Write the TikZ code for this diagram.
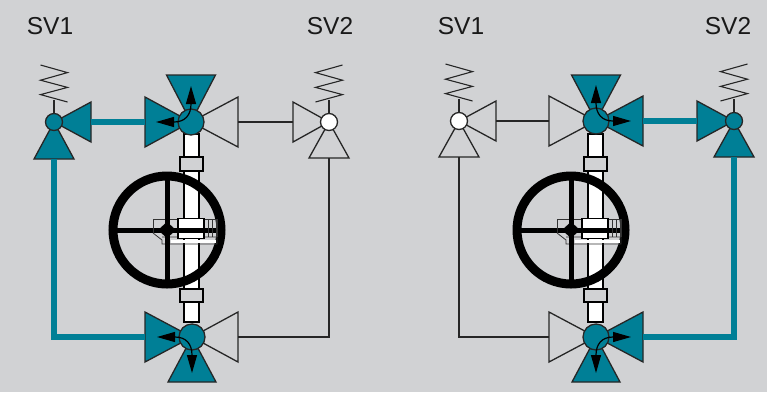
\documentclass[tikz,border=0pt]{standalone}
\usepackage{fontspec}
\setmainfont{Liberation Sans}
\usetikzlibrary{calc}
\usetikzlibrary{arrows.meta}
\definecolor{panelgray}{HTML}{D1D2D4}
\definecolor{valveteal}{HTML}{007F96}
\tikzset{
  pipeon/.style={valveteal, line width=6.5pt},
  pipeoff/.style={black!85, line width=1.4pt},
  triangleon/.style={draw=black!85, fill=valveteal, line width=1.3pt, line join=miter},
  triangleoff/.style={draw=black!85, fill=panelgray, line width=1.3pt, line join=miter},
  bodyon/.style={circle, draw=black!85, fill=valveteal, line width=1.3pt, inner sep=0pt},
  bodyoff/.style={circle, draw=black!85, fill=white, line width=1.3pt, inner sep=0pt},
  springline/.style={black!85, line width=1.1pt},
  flowline/.style={black, line width=1.2pt, {Stealth[length=18pt, width=10pt, inset=0pt]}-{Stealth[length=18pt, width=10pt, inset=0pt]}},
  stemline/.style={draw=black, fill=white, line width=1.6pt},
  collarline/.style={draw=black, fill=panelgray, line width=1.6pt},
  partline/.style={draw=black!80, line width=.8pt},
  label/.style={font=\fontsize{24.5pt}{27pt}\selectfont, text=black!90, inner sep=0pt}
}
\begin{document}
\begin{tikzpicture}[x=1pt, y=-1pt]
\fill[panelgray] (0,0) rectangle (767,392);
\useasboundingbox (0,0) rectangle (767,392);
% valve centres
\coordinate (lmt) at (191,122);
\coordinate (lmb) at (192,337);
\coordinate (rmt) at (596,121);
\coordinate (rmb) at (596,337);
\coordinate (lsa) at (54,122);
\coordinate (lsb) at (329,122);
\coordinate (rsa) at (459,121);
\coordinate (rsb) at (734,121);
\coordinate (lwheel) at (167,230);
\coordinate (rwheel) at (571,230);
% stem, collars, handwheel
\foreach \w in {lwheel, rwheel} {
 \draw[stemline] ($(\w)+(17,-96)$) rectangle ($(\w)+(32,92)$);
 \draw[collarline] ($(\w)+(13,-73)$) rectangle ($(\w)+(36,-59)$);
 \draw[collarline] ($(\w)+(13,59)$) rectangle ($(\w)+(36,72)$);
 \draw[black, line width=9pt] (\w) circle (54);
 \draw[black, line width=5pt] ($(\w)+(-54,0)$) -- ($(\w)+(54,0)$);
 \draw[partline] ($(\w)+(-14,3)$) -- ($(\w)+(-14,-11)$) -- ($(\w)+(50,-11)$) -- ($(\w)+(50,7)$);
 \draw[partline] ($(\w)+(-14,3)$) -- ($(\w)+(-5,10)$) -- ($(\w)+(-5,14)$) -- ($(\w)+(50,14)$) -- ($(\w)+(50,7)$) -- ($(\w)+(-5,7)$);
 \fill[white] ($(\w)+(4,10)$) rectangle ($(\w)+(49,13)$);
 \draw[black, line width=1.2pt, fill=white] ($(\w)+(11,-11.5)$) rectangle ($(\w)+(37,8.5)$);
 \fill[black] ($(\w)+(11,-2)$) rectangle ($(\w)+(37,2.5)$);
 \foreach \x in {41, 45, 49} {
  \draw[partline] ($(\w)+(\x,-11)$) -- ($(\w)+(\x,7)$);
 }
 \draw[black, line width=5pt] ($(\w)+(0,-54)$) -- ($(\w)+(0,54)$);
 \draw[black, fill=black, rounded corners=2pt] ($(\w)+(-8.5,0)$) -- ($(\w)+(0,-8)$) -- ($(\w)+(8.5,0)$) -- ($(\w)+(0,8)$) -- cycle;
}
% side triangles
\foreach \c/\n/\dx/\h/\sty in {
  lmt/lmtL/-46/25/triangleon, lmt/lmtR/47/25/triangleoff,
  lmb/lmbL/-47/25/triangleon, lmb/lmbR/46/25/triangleoff,
  rmt/rmtL/-47/25/triangleoff, rmt/rmtR/47/25/triangleon,
  rmb/rmbL/-47/25/triangleoff, rmb/rmbR/47/25/triangleon,
  lsa/lsaR/37/20/triangleon, lsb/lsbL/-36/20/triangleoff,
  rsa/rsaR/37/20/triangleoff, rsb/rsbL/-37/20/triangleon} {
 \coordinate (\n) at ($(\c)+(\dx,0)$);
 \draw[\sty] (\c) -- ($(\n)+(0,-\h)$) -- ($(\n)+(0,\h)$) -- cycle;
}
% upright triangles
\foreach \c/\n/\dy/\h/\sty in {
  lmt/lmtT/-47/24.5/triangleon, lmb/lmbB/45/24/triangleon,
  rmt/rmtT/-46/24.5/triangleon, rmb/rmbB/45/24/triangleon,
  lsa/lsaB/37/20/triangleon, lsb/lsbB/36/20/triangleoff,
  rsa/rsaB/36/20/triangleoff, rsb/rsbB/36/20/triangleon} {
 \coordinate (\n) at ($(\c)+(0,\dy)$);
 \draw[\sty] (\c) -- ($(\n)+(-\h,0)$) -- ($(\n)+(\h,0)$) -- cycle;
}
% valve bodies
\foreach \c/\sty/\d in {lmt/bodyon/26pt, lmb/bodyon/26pt, rmt/bodyon/26pt, rmb/bodyon/26pt,
  lsa/bodyon/17pt, lsb/bodyoff/17pt, rsa/bodyoff/17pt, rsb/bodyon/17pt} {
 \node[\sty, minimum size=\d] (\c body) at (\c) {};
}
% springs
\foreach \c/\s in {lsa/1, lsb/-1, rsa/1, rsb/-1} {
 \draw[springline] (\c body.north) -- ++(0,-13);
 \draw[springline] ($(\c)+(-\s*13.5,-57)$) -- ++(\s*27,7.6) -- ++(-\s*27,7.6) -- ++(\s*27,7.2) -- ++(-\s*27,7.2) -- ++(\s*27,7.4);
}
% pipes
\draw[pipeon] (lsaR) -- (lmtL);
\draw[pipeon] (lsaB) |- (lmbL);
\draw[pipeoff] (lmtR) -- (lsbL);
\draw[pipeoff] (lsbB) |- (lmbR);
\draw[pipeoff] (rsaR) -- (rmtL);
\draw[pipeoff] (rsaB) |- (rmbL);
\draw[pipeon] (rmtR) -- (rsbL);
\draw[pipeon] (rsbB) |- (rmbR);
% flow arrows
\foreach \c/\sx/\sy in {lmt/-1/-1, lmb/-1/1, rmt/1/-1, rmb/1/1} {
 \draw[flowline] ($(\c)+(\sx*35,0)$) -- ($(\c)+(\sx*17,0)$) .. controls ($(\c)+(\sx*6,0)$) and ($(\c)+(0,\sy*7)$) .. ($(\c)+(0,\sy*18)$) -- ($(\c)+(0,\sy*36)$);
}
\node[label] (lsvone) at (50,26) {SV1};
\node[label] (lsvtwo) at (330,26) {SV2};
\node[label] (rsvone) at (461,26) {SV1};
\node[label] (rsvtwo) at (728,26) {SV2};
\end{tikzpicture}
\end{document}
